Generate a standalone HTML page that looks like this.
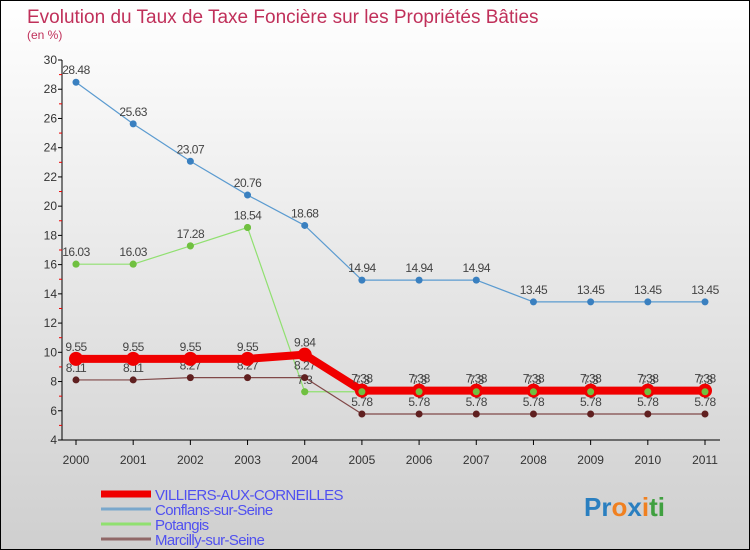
<!DOCTYPE html>
<html><head><meta charset="utf-8">
<style>
body{margin:0;}
#wrap{width:748px;height:548px;border:1px solid #000;background:linear-gradient(#ffffff,#cfcfcf);position:relative;overflow:hidden;font-family:"Liberation Sans",sans-serif;}
svg text{font-family:"Liberation Sans",sans-serif;}
</style></head>
<body>
<div id="wrap">
<svg id="chart" width="748" height="548">
<text x="26" y="22" font-size="19" fill="#c0305a">Evolution du Taux de Taxe Foncière sur les Propriétés Bâties</text>
<text x="26" y="38" font-size="12" fill="#c0305a">(en %)</text>
<g id="axes"></g>
<g id="series"></g>
<g id="overlay"></g>
<g id="legend"></g>
<text x="583" y="515" font-size="26" font-weight="bold"><tspan fill="#2a7fc0">Pr</tspan><tspan fill="#f08020">o</tspan><tspan fill="#2a7fc0">x</tspan><tspan fill="#f08020">i</tspan><tspan fill="#40a040">ti</tspan></text>
</svg>
</div>
<script>
const years=[2000,2001,2002,2003,2004,2005,2006,2007,2008,2009,2010,2011];
const yTicks=[4,6,8,10,12,14,16,18,20,22,24,26,28,30];
const villiers=[9.55,9.55,9.55,9.55,9.84,7.38,7.38,7.38,7.38,7.38,7.38,7.38];
const conflans=[28.48,25.63,23.07,20.76,18.68,14.94,14.94,14.94,13.45,13.45,13.45,13.45];
const potangis=[16.03,16.03,17.28,18.54,7.3,7.3,7.3,7.3,7.3,7.3,7.3,7.3];
const marcilly=[8.11,8.11,8.27,8.27,8.27,5.78,5.78,5.78,5.78,5.78,5.78,5.78];
const seriesNames=["VILLIERS-AUX-CORNEILLES","Conflans-sur-Seine","Potangis","Marcilly-sur-Seine"];
const NS="http://www.w3.org/2000/svg";
const x0=75,x1=704,yMin=4,yMax=30,py0=439,py1=59;
const xs=i=>x0+(x1-x0)*i/(years.length-1);
const ys=v=>py0-(v-yMin)/(yMax-yMin)*(py0-py1);
function mk(t,a,p){const e=document.createElementNS(NS,t);for(const k in a)e.setAttribute(k,a[k]);p.appendChild(e);return e;}
const ax=document.getElementById('axes');
let e=mk('line',{x1:61,y1:py1,x2:61,y2:py0,stroke:'#000'},ax);


e=mk('line',{x1:61,y1:py0,x2:x1+15,y2:py0,stroke:'#000'},ax);


yTicks.forEach(v=>{
 mk('line',{x1:57,x2:61,y1:ys(v),y2:ys(v),stroke:'#000'},ax);
 if(v<30) mk('line',{x1:58,x2:61,y1:ys(v+1),y2:ys(v+1),stroke:'#e00'},ax);
 const t=mk('text',{x:56,y:ys(v)+4,'font-size':12,'text-anchor':'end',fill:'#333'},ax);t.textContent=v;
 
 
});
years.forEach((y,i)=>{
 mk('line',{x1:xs(i),x2:xs(i),y1:py0,y2:py0+5,stroke:'#000'},ax);
 const t=mk('text',{x:xs(i),y:py0+24,'font-size':12,'text-anchor':'middle',fill:'#333'},ax);t.textContent=y;
 
 
});
const sg=document.getElementById('series');
const defs=[
 {d:conflans,c:'#5b9bd0',w:1.2,r:3.5,f:'#3a80c0',n:'conflans-sur-seine'},
 {d:potangis,c:'#90e070',w:1.2,r:3.5,f:'#70c040',n:'potangis'},
 {d:marcilly,c:'#804848',w:1.2,r:3.5,f:'#602020',n:'marcilly-sur-seine'},
 {d:villiers,c:'#f00000',w:8,r:7,f:'#f00000',n:'villiers-aux-corneilles'}
];
defs.forEach(s=>{
 const g=mk('g',{},sg);
 
 
 const pl=mk('polyline',{points:s.d.map((v,i)=>xs(i)+','+ys(v)).join(' '),fill:'none',stroke:s.c,'stroke-width':s.w,'stroke-linejoin':'round'},g);
 
 
 s.d.forEach((v,i)=>{
  const c=mk('circle',{cx:xs(i),cy:ys(v),r:s.r,fill:s.f},g);
  
  
  const t=mk('text',{x:xs(i),y:ys(v)-8,'font-size':12,'text-anchor':'middle',fill:'#444','letter-spacing':'-0.5'},g);
  t.textContent=v;
  
  
 });
});
const ov=document.getElementById('overlay');
potangis.forEach((v,i)=>{
 const c=mk('circle',{cx:xs(i),cy:ys(v),r:3.5,fill:'#70c040'},ov);
 
 
});
const lg=document.getElementById('legend');
const lc=['#f00000','#7aa8cc','#90e070','#906868'],lw=[7,3,3,3];
seriesNames.forEach((n,i)=>{
 const y=493+i*15;
 const l=mk('line',{x1:100,x2:150,y1:y,y2:y,stroke:lc[i],'stroke-width':lw[i]},lg);
 
 
 const t=mk('text',{x:154,y:y+6,'font-size':15,fill:'#5050f0','letter-spacing':'-0.6'},lg);
 t.textContent=n;
 
 
});
</script>
</body></html>
